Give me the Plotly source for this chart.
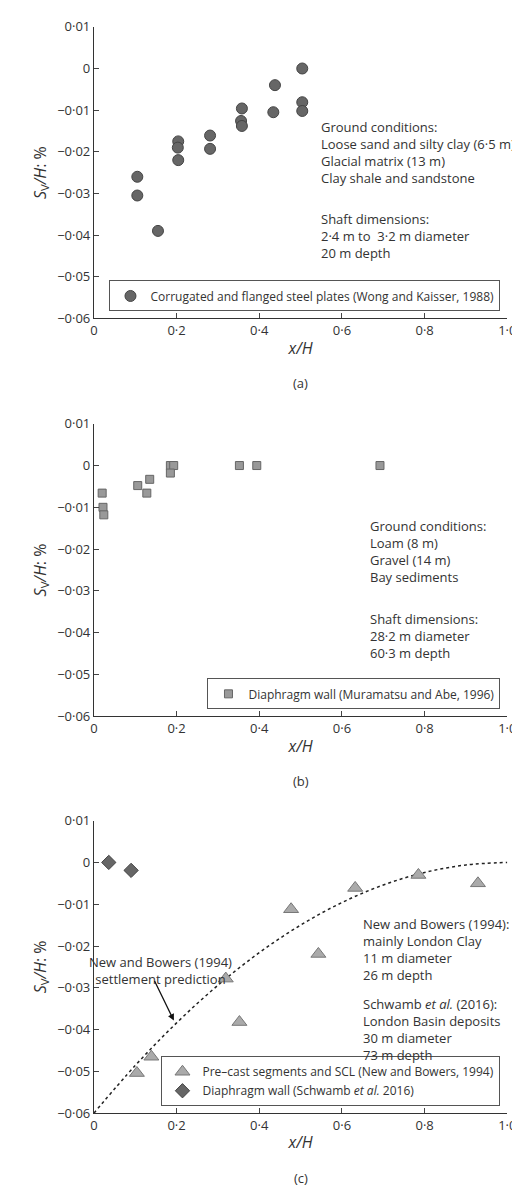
import plotly.graph_objects as go

# Panel (a)
a_x = [0.105, 0.105, 0.155, 0.204, 0.203, 0.204, 0.281, 0.281, 0.358, 0.356, 0.358, 0.438, 0.434, 0.504, 0.504, 0.504]
a_y = [-0.026, -0.0305, -0.039, -0.0175, -0.019, -0.022, -0.0161, -0.0193, -0.0096, -0.0126, -0.0138, -0.004, -0.0105, 0.0, -0.0081, -0.0102]
# Panel (b)
b_x = [0.020, 0.022, 0.024, 0.106, 0.128, 0.135, 0.185, 0.193, 0.185, 0.352, 0.394, 0.692]
b_y = [-0.0066, -0.010, -0.0118, -0.0048, -0.0066, -0.0033, 0.0, 0.0, -0.0018, 0.0, 0.0, 0.0]
# Panel (c)
c_tri_x = [0.104, 0.139, 0.319, 0.352, 0.477, 0.543, 0.632, 0.785, 0.929]
c_tri_y = [-0.0504, -0.0465, -0.0278, -0.0382, -0.0112, -0.0219, -0.0061, -0.0030, -0.0050]
c_dia_x = [0.036, 0.090]
c_dia_y = [0.0, -0.0019]
pred_x = [0.0, 0.1, 0.2, 0.3, 0.4, 0.5, 0.6, 0.7, 0.8, 0.9, 1.0]
pred_y = [-0.060, -0.0486, -0.0384, -0.0294, -0.0216, -0.0150, -0.0096, -0.0054, -0.0024, -0.0006, 0.0]

y_ticks = [0.01, 0.0, -0.01, -0.02, -0.03, -0.04, -0.05, -0.06]
y_labels = ["0·01", "0", "−0·01", "−0·02", "−0·03", "−0·04", "−0·05", "−0·06"]
x_ticks = [0, 0.2, 0.4, 0.6, 0.8, 1.0]
x_labels = ["0", "0·2", "0·4", "0·6", "0·8", "1·0"]

W, H = 520, 1189
def py(p): return 1 - p / H
def px(p): return p / W

FONT = "Open Sans"
TC = "#333"
fig = go.Figure()

fig.add_trace(go.Scatter(x=a_x, y=a_y, mode="markers", xaxis="x", yaxis="y", legend="legend",
    name="Corrugated and flanged steel plates (Wong and Kaisser, 1988)",
    marker=dict(symbol="circle", size=11, color="#666", line=dict(color="#444", width=1))))
fig.add_trace(go.Scatter(x=b_x, y=b_y, mode="markers", xaxis="x2", yaxis="y2", legend="legend2",
    name="Diaphragm wall (Muramatsu and Abe, 1996)",
    marker=dict(symbol="square", size=8, color="#999", line=dict(color="#666", width=1))))
fig.add_trace(go.Scatter(x=pred_x, y=pred_y, mode="lines", xaxis="x3", yaxis="y3", showlegend=False,
    line=dict(color="#222", width=1.5, dash="dot", shape="spline")))
fig.add_trace(go.Scatter(x=c_tri_x, y=c_tri_y, mode="markers", xaxis="x3", yaxis="y3", legend="legend3",
    name="Pre–cast segments and SCL (New and Bowers, 1994)",
    marker=dict(symbol="triangle-up", size=13, color="#aaa", line=dict(color="#777", width=1))))
fig.add_trace(go.Scatter(x=c_dia_x, y=c_dia_y, mode="markers", xaxis="x3", yaxis="y3", legend="legend3",
    name="Diaphragm wall (Schwamb <i>et al.</i> 2016)",
    marker=dict(symbol="diamond", size=11, color="#666", line=dict(color="#444", width=1))))

xdom = [px(84), px(508)]
panels = [(10, 306), (413, 710), (816, 1113)]
layout = dict(width=W, height=H, margin=dict(l=0, r=0, t=0, b=0),
              plot_bgcolor="white", paper_bgcolor="white",
              font=dict(family=FONT, size=13, color=TC))
ann = []
for i, (top, bot) in enumerate(panels):
    s = "" if i == 0 else str(i + 1)
    layout["xaxis" + s] = dict(domain=xdom, anchor="y" + s, range=[0, 1.0], tickvals=x_ticks, ticktext=x_labels,
        ticks="inside", ticklen=5, showline=True, linecolor="#333", linewidth=1, showgrid=False, zeroline=False,
        title=dict(text="<i>x/H</i>", standoff=4), tickfont=dict(size=13))
    layout["yaxis" + s] = dict(domain=[py(bot), py(top)], anchor="x" + s, range=[-0.06, 0.01], tickvals=y_ticks,
        ticktext=y_labels, ticks="inside", ticklen=5, showline=True, linecolor="#333", linewidth=1,
        showgrid=False, zeroline=False, title=dict(text="<i>S</i><sub>V</sub><i>/H</i>: %", standoff=6),
        tickfont=dict(size=13))
    ann.append(dict(text="(%s)" % "abc"[i], x=px(296), y=py(bot + 66), xref="paper", yref="paper",
                    showarrow=False, xanchor="center", yanchor="middle"))

leg = dict(bordercolor="#555", borderwidth=1, bgcolor="white", xanchor="right", yanchor="bottom",
           font=dict(size=12), itemwidth=30, tracegroupgap=0)
layout["legend"] = dict(leg, x=px(501), y=py(299))
layout["legend2"] = dict(leg, x=px(501), y=py(703))
layout["legend3"] = dict(leg, x=px(501), y=py(1106))

def txt(t, x, y, align="left", xanchor="left"):
    ann.append(dict(text=t, x=px(x), y=py(y), xref="paper", yref="paper", showarrow=False,
                    xanchor=xanchor, yanchor="top", align=align))

txt("Ground conditions:<br>Loose sand and silty clay (6·5 m)<br>Glacial matrix (13 m)<br>Clay shale and sandstone", 315, 101)
txt("Shaft dimensions:<br>2·4 m to  3·2 m diameter<br>20 m depth", 315, 194)
txt("Ground conditions:<br>Loam (8 m)<br>Gravel (14 m)<br>Bay sediments", 365, 506)
txt("Shaft dimensions:<br>28·2 m diameter<br>60·3 m depth", 365, 600)
txt("New and Bowers (1994):<br>mainly London Clay<br>11 m diameter<br>26 m depth", 358, 910)
txt("Schwamb <i>et al.</i> (2016):<br>London Basin deposits<br>30 m diameter<br>73 m depth", 358, 991)
txt("New and Bowers (1994)<br>settlement prediction", 152, 948, align="center", xanchor="center")
ann.append(dict(x=px(166), y=py(1019), xref="paper", yref="paper", ax=-20, ay=-41,
                axref="pixel", ayref="pixel", showarrow=True, arrowhead=2, arrowsize=1, arrowwidth=1.3,
                arrowcolor="#111", text=""))
layout["annotations"] = ann
fig.update_layout(**layout)
fig.write_html("out.html")
